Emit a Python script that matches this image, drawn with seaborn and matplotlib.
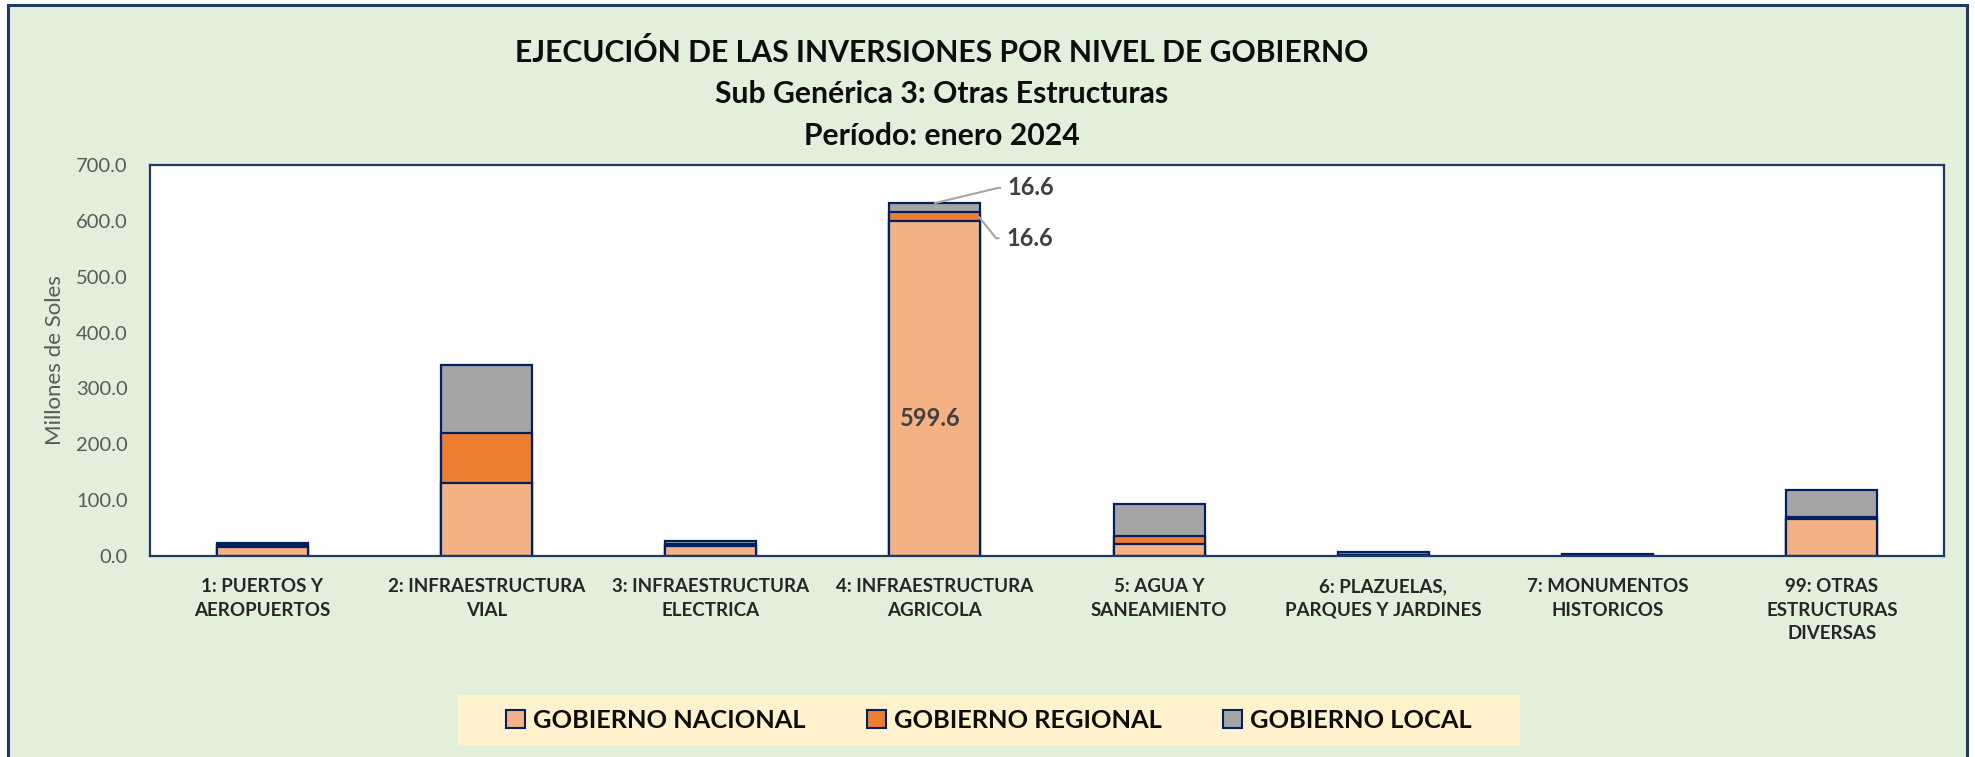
import matplotlib
matplotlib.use("Agg")
import matplotlib.pyplot as plt
import seaborn as sns
import pandas as pd
from matplotlib.patches import Patch, Rectangle

# Datos (millones de soles)
categorias = [
    "1: PUERTOS Y\nAEROPUERTOS",
    "2: INFRAESTRUCTURA\nVIAL",
    "3: INFRAESTRUCTURA\nELECTRICA",
    "4: INFRAESTRUCTURA\nAGRICOLA",
    "5: AGUA Y\nSANEAMIENTO",
    "6: PLAZUELAS,\nPARQUES Y JARDINES",
    "7: MONUMENTOS\nHISTORICOS",
    "99: OTRAS\nESTRUCTURAS\nDIVERSAS",
]
nacional = [17.0, 130.0, 18.0, 599.6, 21.5, 1.5, 1.5, 66.0]
regional = [3.0, 91.0, 4.0, 16.6, 14.0, 0.5, 1.0, 4.0]
local = [4.0, 121.0, 5.5, 16.6, 58.0, 5.0, 1.5, 47.5]
series = ["GOBIERNO NACIONAL", "GOBIERNO REGIONAL", "GOBIERNO LOCAL"]
yticks = [0, 100, 200, 300, 400, 500, 600, 700]

c_nac, c_reg, c_loc = "#F4B183", "#ED7D31", "#A5A5A5"
navy = "#002060"
bg = "#E2EFDA"

df = pd.DataFrame({"categoria": categorias, "nacional": nacional,
                   "regional": regional, "local": local})
df["nac_reg"] = df["nacional"] + df["regional"]
df["total"] = df["nac_reg"] + df["local"]

sns.set_theme(style="white")
plt.rcParams["font.family"] = ["Lato", "DejaVu Sans"]

fig = plt.figure(figsize=(19.75, 7.57), dpi=100, facecolor="white")

# fondo verde con borde azul del area del grafico
fig.patches.append(Rectangle((0.00405, -0.02), 0.9919, 1.0134, transform=fig.transFigure,
                             facecolor=bg, edgecolor="#1F3864", linewidth=2.2, zorder=-2))
# fondo de la leyenda
fig.patches.append(Rectangle((457.7 / 1975, 1 - 745.7 / 757), (1520 - 457.7) / 1975,
                             50.7 / 757, transform=fig.transFigure,
                             facecolor="#FFF2CC", edgecolor="none", zorder=-1))

ax = fig.add_axes([0.0759, 0.2655, 0.9084, 0.5165])
ax.set_facecolor("white")

# barras apiladas: se dibuja el acumulado de arriba hacia abajo
for col, color in [("total", c_loc), ("nac_reg", c_reg), ("nacional", c_nac)]:
    sns.barplot(data=df, x="categoria", y=col, color=color, saturation=1,
                width=0.406, edgecolor=navy, linewidth=1.6, errorbar=None, ax=ax)

ax.set_ylim(0, 700)
ax.set_xlim(-0.5, len(categorias) - 0.5)
ax.set_yticks(yticks)
ax.set_yticklabels([f"{v:.1f}" for v in yticks], fontsize=14.5, color="#595959")
ax.set_xticks(range(len(categorias)))
ax.set_xticklabels(categorias, fontsize=13.5, fontweight="bold", color="#262626",
                   linespacing=1.45, va="top")
ax.tick_params(axis="y", length=0, pad=16)
ax.tick_params(axis="x", length=0, pad=16)
ax.set_xlabel("")
ax.set_ylabel("Millones de Soles", fontsize=16, color="#595959")
ax.yaxis.set_label_coords(-0.0474, 0.5)
for s in ax.spines.values():
    s.set_visible(True)
    s.set_color("#1F3864")
    s.set_linewidth(1.6)

# etiquetas de la categoria 4
i = 3
lbl = dict(fontsize=17, fontweight="bold", color="#404040")
ax.text(i - 0.02, nacional[i] * 0.41, f"{nacional[i]:.1f}", ha="center", va="center", **lbl)
conn = "arc,angleA=180,armA=10,angleB=0,armB=0,rad=0"
ax.annotate(f"{local[i]:.1f}", xy=(i, df["total"][i] - 1), xytext=(i + 0.326, 659),
            ha="left", va="center", **lbl,
            arrowprops=dict(arrowstyle="-", color="#A6A6A6", lw=1.5, shrinkA=3, shrinkB=0,
                            relpos=(0, 0.5), connectionstyle=conn))
ax.annotate(f"{regional[i]:.1f}", xy=(i + 0.197, 607), xytext=(i + 0.318, 569),
            ha="left", va="center", **lbl,
            arrowprops=dict(arrowstyle="-", color="#A6A6A6", lw=1.5, shrinkA=3, shrinkB=0,
                            relpos=(0, 0.5), connectionstyle=conn))

# titulos
tx = 0.4767
tit = dict(ha="center", va="center", fontsize=21.7, fontweight="bold", color="#0D0D0D")
fig.text(tx, 0.931, "EJECUCIÓN DE LAS INVERSIONES POR NIVEL DE GOBIERNO", **tit)
fig.text(tx, 0.876, "Sub Genérica 3: Otras Estructuras", **tit)
fig.text(tx, 0.8205, "Período: enero 2024", **tit)

# leyenda
handles = [Patch(facecolor=c, edgecolor=navy, linewidth=1.5) for c in (c_nac, c_reg, c_loc)]
leg = fig.legend(handles, series, loc="center", bbox_to_anchor=(0.5007, 0.0485), ncol=3,
                 frameon=False, handlelength=0.74, handleheight=0.69, handletextpad=0.33,
                 columnspacing=2.4, borderaxespad=0,
                 prop={"size": 18.3, "weight": "bold"})
for t in leg.get_texts():
    t.set_color("#0D0D0D")

fig.savefig("out.png", dpi=100, facecolor="white")
